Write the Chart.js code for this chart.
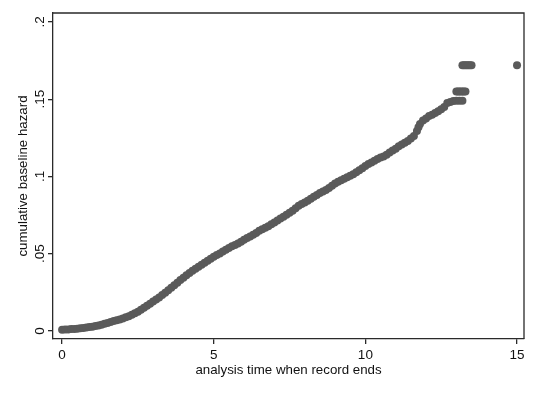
<!DOCTYPE html>
<html>
<head>
<meta charset="utf-8">
<script src="https://cdn.jsdelivr.net/npm/chart.js@4/dist/chart.umd.min.js"></script>
<style>
html,body{margin:0;padding:0;background:#fff;}
#wrap{width:540px;height:393px;position:relative;}
</style>
</head>
<body>
<div id="wrap"><canvas id="c"></canvas></div>
<script>
// analysis time (x) and cumulative baseline hazard (y)
const times = [
0.0,0.1,0.2,0.3,0.4,0.5,0.6,0.7,0.8,0.9,
1.0,1.1,1.2,1.3,1.4,1.5,1.6,1.7,1.8,1.9,
2.0,2.1,2.2,2.3,2.4,2.5,2.6,2.7,2.8,2.9,
3.0,3.1,3.2,3.3,3.4,3.5,3.6,3.7,3.8,3.9,
4.0,4.1,4.2,4.3,4.4,4.5,4.6,4.7,4.8,4.9,
5.0,5.1,5.2,5.3,5.4,5.5,5.6,5.7,5.8,5.9,
6.0,6.1,6.2,6.3,6.4,6.5,6.6,6.7,6.8,6.9,
7.0,7.1,7.2,7.3,7.4,7.5,7.6,7.7,7.8,7.9,
8.0,8.1,8.2,8.3,8.4,8.5,8.6,8.7,8.8,8.9,
9.0,9.1,9.2,9.3,9.4,9.5,9.6,9.7,9.8,9.9,
10.0,10.1,10.2,10.3,10.4,10.5,10.6,10.7,10.8,10.9,
11.0,11.1,11.2,11.3,11.4,11.5,11.6,11.7,11.75,11.8,11.9,
12.0,12.1,12.2,12.3,12.4,12.5,12.6,12.7,12.8,12.9,
13.0,13.1,13.2,
13.0,13.05,13.1,13.15,13.2,13.25,13.3,
13.2,13.25,13.3,13.35,13.4,13.45,13.5,
15.0
];
const hazard = [
.0008,.0009,.0010,.0012,.0013,.0015,.0017,.0019,.0022,.0025,
.0028,.0032,.0036,.0041,.0046,.0052,.0058,.0064,.0069,.0074,
.0080,.0088,.0096,.0105,.0115,.0125,.0137,.0150,.0163,.0176,
.0190,.0203,.0217,.0232,.0248,.0264,.0280,.0296,.0312,.0330,
.0345,.0360,.0375,.0390,.0403,.0415,.0428,.0442,.0455,.0468,
.0480,.0491,.0502,.0514,.0526,.0537,.0548,.0556,.0566,.0577,
.0590,.0601,.0612,.0622,.0634,.0648,.0658,.0668,.0678,.0690,
.0702,.0715,.0728,.0740,.0752,.0765,.0778,.0795,.0810,.0822,
.0832,.0842,.0855,.0868,.0880,.0893,.0903,.0913,.0925,.0940,
.0955,.0966,.0975,.0985,.0995,.1005,.1015,.1028,.1040,.1053,
.1068,.1080,.1090,.1102,.1113,.1122,.1130,.1140,.1155,.1168,
.1180,.1195,.1207,.1218,.1230,.1245,.1262,.1295,.1318,.1340,.1362,
.1375,.1392,.1400,.1410,.1422,.1435,.1450,.1475,.1482,.1488,
.1490,.1490,.1490,
.155,.155,.155,.155,.155,.155,.155,
.172,.172,.172,.172,.172,.172,.172,
.172
];
const xTicks = [0,5,10,15];
const xTickLabels = ['0','5','10','15'];
const yTicks = [0,0.05,0.1,0.15,0.2];
const yTickLabels = ['0','.05','.1','.15','.2'];
const xTitle = 'analysis time when record ends';
const yTitle = 'cumulative baseline hazard';

const points = times.map((t,i)=>({x:t,y:hazard[i]}));
const FONT = 'Liberation Sans, Arial, Helvetica, sans-serif';
const ink = '#2a2a2a';

const framePlugin = {
  id:'frame',
  afterDraw(chart){
    const {ctx, chartArea:a} = chart;
    ctx.save();
    ctx.strokeStyle = ink;
    ctx.lineWidth = 1.3;
    ctx.beginPath();
    ctx.moveTo(a.left, a.top); ctx.lineTo(a.right, a.top); ctx.lineTo(a.right, a.bottom);
    ctx.stroke();
    ctx.restore();
  }
};

new Chart(document.getElementById('c'), {
  type:'scatter',
  data:{datasets:[{
    data:points,
    pointRadius:4,
    pointHoverRadius:4,
    pointBackgroundColor:'#5a5a5a',
    pointBorderWidth:0,
    showLine:false
  }]},
  options:{
    responsive:true,
    maintainAspectRatio:false,
    animation:false,
    layout:{padding:{left:0,right:16,top:13,bottom:0}},
    plugins:{legend:{display:false},tooltip:{enabled:false}},
    scales:{
      x:{
        type:'linear',
        min:-0.3, max:15.23,
        afterBuildTicks(s){ s.ticks = xTicks.map(v=>({value:v})); },
        afterFit(s){ s.height = 54; },
        grid:{drawOnChartArea:false, drawTicks:true, tickLength:5, color:ink, lineWidth:1.3},
        border:{display:true, color:ink, width:1.3},
        ticks:{
          color:'#111', padding:3, maxRotation:0, autoSkip:false,
          font:{family:FONT, size:13.5},
          callback:(v)=>{const i=xTicks.indexOf(v); return i>=0?xTickLabels[i]:'';}
        },
        title:{display:true, text:xTitle, color:'#111', font:{family:FONT, size:13.3}, padding:{top:0,bottom:15}}
      },
      y:{
        type:'linear',
        min:-0.0052, max:0.2058,
        afterBuildTicks(s){ s.ticks = yTicks.map(v=>({value:v})); },
        afterFit(s){ s.width = 53; },
        grid:{drawOnChartArea:false, drawTicks:true, tickLength:5, color:ink, lineWidth:1.3},
        border:{display:true, color:ink, width:1.3},
        ticks:{
          color:'#111', padding:-2, minRotation:90, maxRotation:90, crossAlign:'center', autoSkip:false,
          font:{family:FONT, size:13.5},
          callback:(v)=>{const i=yTicks.findIndex(t=>Math.abs(t-v)<1e-9); return i>=0?yTickLabels[i]:'';}
        },
        title:{display:true, text:yTitle, color:'#111', font:{family:FONT, size:13.3}, padding:{top:15,bottom:0}}
      }
    }
  },
  plugins:[framePlugin]
});
</script>
</body>
</html>
